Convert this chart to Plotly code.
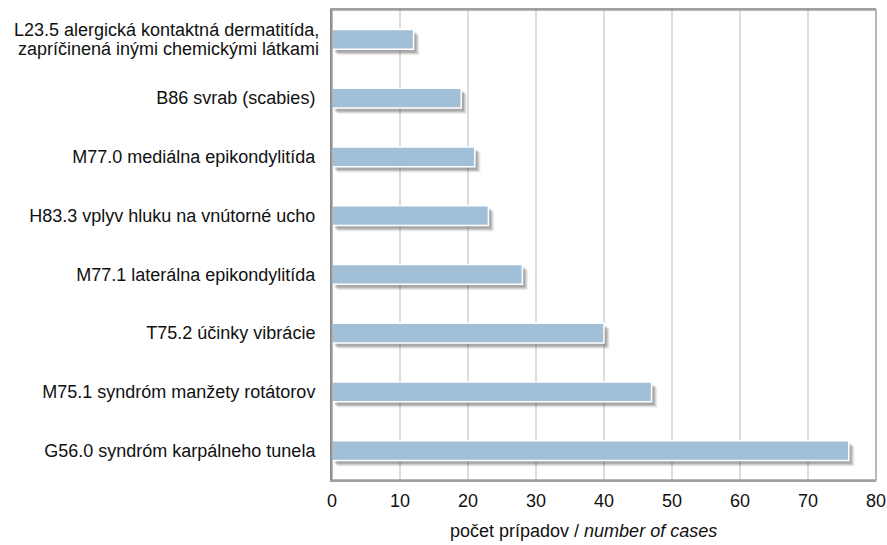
import plotly.graph_objects as go

categories = [
    "L23.5 alergická kontaktná dermatitída,<br>zapríčinená inými chemickými látkami",
    "B86 svrab (scabies)",
    "M77.0 mediálna epikondylitída",
    "H83.3 vplyv hluku na vnútorné ucho",
    "M77.1 laterálna epikondylitída",
    "T75.2 účinky vibrácie",
    "M75.1 syndróm manžety rotátorov",
    "G56.0 syndróm karpálneho tunela",
]
values = [12, 19, 21, 23, 28, 40, 47, 76]
x_ticks = [0, 10, 20, 30, 40, 50, 60, 70, 80]

FONT = "Liberation Sans, Arial, sans-serif"
FS = 18
BAR_W = 0.34

fig = go.Figure()
# soft shadow
for dx, dy, a in [(0.85, 0.10, 0.07), (0.7, 0.085, 0.10), (0.55, 0.07, 0.14), (0.4, 0.055, 0.18)]:
    fig.add_trace(go.Bar(
        y=categories, x=values, base=dx, orientation="h",
        width=BAR_W, offset=-BAR_W / 2 + dy,
        marker=dict(color=f"rgba(50,50,50,{a})", line=dict(width=0)),
        hoverinfo="skip", showlegend=False,
    ))
fig.add_trace(go.Bar(
    y=categories, x=values, orientation="h",
    width=BAR_W, offset=-BAR_W / 2,
    marker=dict(color="#a2bfd8", line=dict(color="white", width=1.5)),
    showlegend=False,
))

# multi-line labels drawn as separate lines (tighter line spacing, like the original)
ticktext = [("" if "<br>" in c else c) for c in categories]
annotations = []
for c in categories:
    if "<br>" in c:
        lines = c.split("<br>")
        n = len(lines)
        for i, ln in enumerate(lines):
            annotations.append(dict(
                text=ln, xref="paper", yref="y", x=0, y=c, xshift=-11,
                yshift=(n - 1) / 2 * 19 - i * 19,
                xanchor="right", yanchor="middle", showarrow=False,
                font=dict(size=FS, family=FONT, color="#111"),
            ))

annotations.append(dict(
    text="počet prípadov / <i>number of cases</i>",
    xref="paper", yref="paper", x=(583 - 332) / (876 - 332), y=-(531 - 480) / 470.0,
    xanchor="center", yanchor="middle", showarrow=False,
    font=dict(size=FS, family=FONT, color="#111"),
))

fig.update_layout(
    width=887, height=545,
    margin=dict(l=332, r=11, t=10, b=65),
    paper_bgcolor="white", plot_bgcolor="white",
    font=dict(family=FONT, size=FS, color="#111"),
    barmode="overlay",
    xaxis=dict(
        range=[0, 80], tickvals=x_ticks, ticktext=[str(v) for v in x_ticks],
        showgrid=True, gridcolor="#dcdcdc", gridwidth=1.5,
        zeroline=False, showline=True, linecolor="#a0a0a0", linewidth=1.5,
        mirror=True, ticks="", ticklabelstandoff=4, automargin=False,
        tickfont=dict(size=FS, family=FONT),
    ),
    yaxis=dict(
        autorange="reversed", showgrid=False, zeroline=False,
        tickvals=categories, ticktext=ticktext,
        showline=True, linecolor="#888888", linewidth=2, mirror=False,
        ticks="", ticklabelstandoff=11, automargin=False,
        tickfont=dict(size=FS, family=FONT),
    ),
    annotations=annotations,
)
fig.add_shape(type="rect", xref="paper", yref="paper", x0=0, y0=0, x1=1, y1=1,
              line=dict(color="#a0a0a0", width=1.5), layer="above")

fig.write_html("out.html", config={"displayModeBar": False},
               post_script="document.body.style.margin='0';document.body.style.overflow='hidden';")
